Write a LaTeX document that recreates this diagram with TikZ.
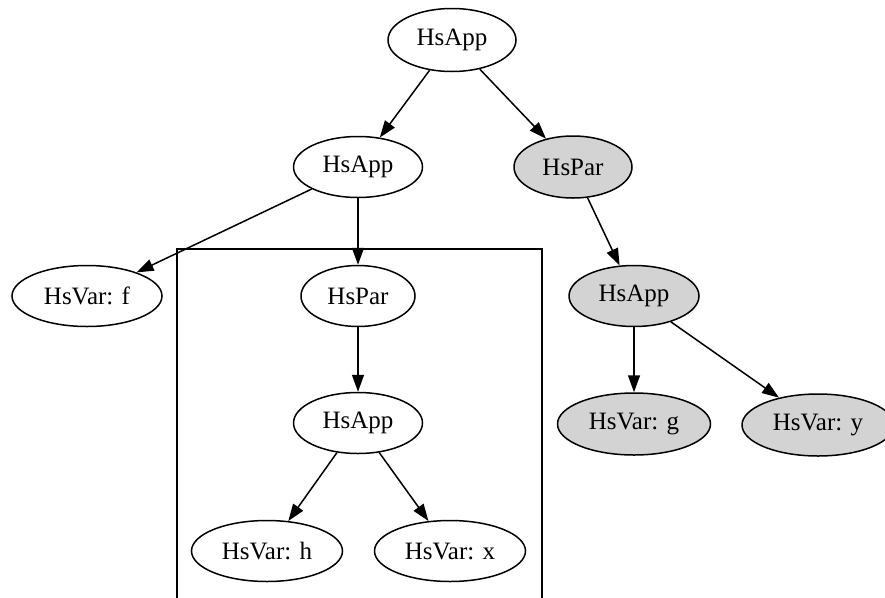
\documentclass[tikz,border=0pt]{standalone}
\usepackage{fontspec}
\setmainfont{Liberation Serif}
\usetikzlibrary{shapes.geometric,arrows.meta}
\tikzset{
  tnode/.style={ellipse, draw, line width=1.5pt, inner sep=0pt, font=\fontsize{25}{29}\selectfont},
  gnode/.style={tnode, fill={rgb,255:red,211;green,211;blue,211}},
  edge/.style={line width=1.5pt, -{Triangle[length=17pt,width=12pt]}},
  boxline/.style={line width=1.5pt}
}
\begin{document}
\begin{tikzpicture}[x=1pt,y=-1pt]
\clip (0,0) rectangle (885,597);
\fill[white] (0,0) rectangle (885,597);
\draw[boxline] (177,620) -- (177,249) -- (542,249) -- (542,620);
\node[tnode, minimum width=128pt, minimum height=63pt] (top) at (452,40) {HsApp};
\node[tnode, minimum width=129pt, minimum height=61pt] (app1) at (358,167) {HsApp};
\node[gnode, minimum width=118pt, minimum height=62pt] (parR) at (573,167) {HsPar};
\node[tnode, minimum width=150pt, minimum height=61pt] (varf) at (87,296) {HsVar: f};
\node[tnode, minimum width=114pt, minimum height=61pt] (par1) at (358,296) {HsPar};
\node[gnode, minimum width=130pt, minimum height=61pt] (appR) at (634,296) {HsApp};
\node[tnode, minimum width=129pt, minimum height=61pt] (app2) at (358,423) {HsApp};
\node[gnode, minimum width=153pt, minimum height=62pt] (varg) at (634,424) {HsVar: g};
\node[gnode, minimum width=152pt, minimum height=62pt] (vary) at (818,425) {HsVar: y};
\node[tnode, minimum width=151pt, minimum height=61pt] (varh) at (267,551) {HsVar: h};
\node[tnode, minimum width=151pt, minimum height=61pt] (varx) at (450,551) {HsVar: x};
\draw[edge] (top) -- (app1);
\draw[edge] (top) -- (parR);
\draw[edge] (app1) -- (varf);
\draw[edge] (app1) -- (par1);
\draw[edge] (par1) -- (app2);
\draw[edge] (app2) -- (varh);
\draw[edge] (app2) -- (varx);
\draw[edge] (parR) -- (appR);
\draw[edge] (appR) -- (varg);
\draw[edge] (appR) -- (vary);
\end{tikzpicture}
\end{document}
